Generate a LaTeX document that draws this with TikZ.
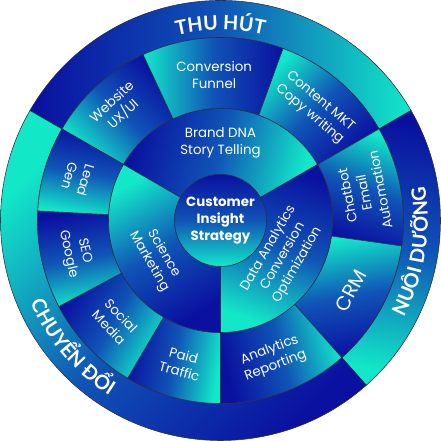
\documentclass[tikz,border=0pt]{standalone}
\usepackage{fontspec}
\setmainfont{Poppins}
\newfontfamily\vnfont{Lato}
\usetikzlibrary{decorations.text}
\definecolor{tealc}{RGB}{18,232,200}
\definecolor{bluec}{RGB}{10,16,160}
\definecolor{midc}{RGB}{16,84,182}
\definecolor{linec}{RGB}{45,45,70}
\tikzset{
  seg/.style={draw=linec, line width=0.4pt, top color=tealc, bottom color=bluec,
    middle color=midc, shading angle=#1},
  lbl/.style={text=white, align=center, inner sep=1pt,
    font=\fontsize{9.5}{11.9}\selectfont},
  ringtext/.style={decorate, decoration={text along path, text align=center,
    text color=white, text={#1}}}
}
\begin{document}
\begin{tikzpicture}
\useasboundingbox (-5.5125,-5.5125) rectangle (5.5125,5.5125);
% outer ring
\path[seg=-90] (30:4.575) arc (30:150:4.575) -- (150:5.5) arc (150:30:5.5) -- cycle;
\path[seg=170] (-48.5:4.575) arc (-48.5:30:4.575) -- (30:5.5) arc (30:-48.5:5.5) -- cycle;
\path[seg=45] (150:4.575) arc (150:311.5:4.575) -- (311.5:5.5) arc (311.5:150:5.5) -- cycle;
% middle ring
\path[seg=135] (115:2.8) arc (115:150:2.8) -- (150:4.575) arc (150:115:4.575) -- cycle;
\path[seg=90] (70:2.8) arc (70:115:2.8) -- (115:4.575) arc (115:70:4.575) -- cycle;
\path[seg=45] (30:2.8) arc (30:70:2.8) -- (70:4.575) arc (70:30:4.575) -- cycle;
\path[seg=-20] (-8:2.8) arc (-8:30:2.8) -- (30:4.575) arc (30:-8:4.575) -- cycle;
\path[seg=10] (-48.5:2.8) arc (-48.5:-8:2.8) -- (-8:4.575) arc (-8:-48.5:4.575) -- cycle;
\path[seg=-75] (-90:2.8) arc (-90:-48.5:2.8) -- (-48.5:4.575) arc (-48.5:-90:4.575) -- cycle;
\path[seg=-100] (-120.5:2.8) arc (-120.5:-90:2.8) -- (-90:4.575) arc (-90:-120.5:4.575) -- cycle;
\path[seg=-120] (208:2.8) arc (208:239.5:2.8) -- (239.5:4.575) arc (239.5:208:4.575) -- cycle;
\path[seg=-170] (177:2.8) arc (177:208:2.8) -- (208:4.575) arc (208:177:4.575) -- cycle;
\path[seg=170] (150:2.8) arc (150:177:2.8) -- (177:4.575) arc (177:150:4.575) -- cycle;
% inner ring
\path[seg=-105] (30:1.15) arc (30:150:1.15) -- (150:2.8) arc (150:30:2.8) -- cycle;
\path[seg=30] (150:1.15) arc (150:270:1.15) -- (270:2.8) arc (270:150:2.8) -- cycle;
\path[seg=160] (-90:1.15) arc (-90:30:1.15) -- (30:2.8) arc (30:-90:2.8) -- cycle;
\path[seg=180] (0,0) circle (1.15);
% ring titles
\path[ringtext={|\vnfont\bfseries\fontsize{14}{14}\selectfont|THU HÚT}] (150:4.76) arc (150:30:4.76);
\path[ringtext={|\vnfont\bfseries\fontsize{14}{14}\selectfont|NUÔI DƯỠNG}] (-48.5:5.18) arc (-48.5:30:5.18);
\path[ringtext={|\vnfont\bfseries\fontsize{14}{14}\selectfont|CHUYỂN ĐỔI}] (190:5.18) arc (190:251:5.18);
% middle labels
\node[lbl] (funnel) at (92.5:3.65) {Conversion\\Funnel};
\node[lbl, rotate=42.5] (web) at (132.5:3.8) {Website\\UX/UI};
\node[lbl, rotate=-40] (content) at (50:3.67) {Content MKT\\Copy writing};
\node[lbl, rotate=101] (chat) at (11:3.65) {Chatbot\\Email\\Automation};
\node[lbl, font=\fontsize{14}{16}\selectfont, rotate=62] (crm) at (-28.25:3.7) {CRM};
\node[lbl, rotate=20.75] (report) at (-69.25:3.68) {Analytics\\Reporting};
\node[lbl, rotate=-15.25] (paid) at (-105.25:3.7) {Paid\\Traffic};
\node[lbl, rotate=-46.25] (social) at (223.75:3.65) {Social\\Media};
\node[lbl, rotate=-77.5] (seo) at (192.5:3.7) {SEO\\Google};
\node[lbl, rotate=-106.5] (lead) at (163.5:3.72) {Lead\\Gen};
% inner labels
\node[lbl] (brand) at (90:1.95) {Brand DNA\\Story Telling};
\node[lbl, rotate=-60] (science) at (210:1.85) {Science\\Marketing};
\node[lbl, rotate=60] (data) at (-30:1.8) {Data Analytics\\Conversion\\Optimization};
\node[lbl, font=\bfseries\fontsize{9.5}{11.9}\selectfont] (core) at (0,0) {Customer\\Insight\\Strategy};
\end{tikzpicture}
\end{document}
